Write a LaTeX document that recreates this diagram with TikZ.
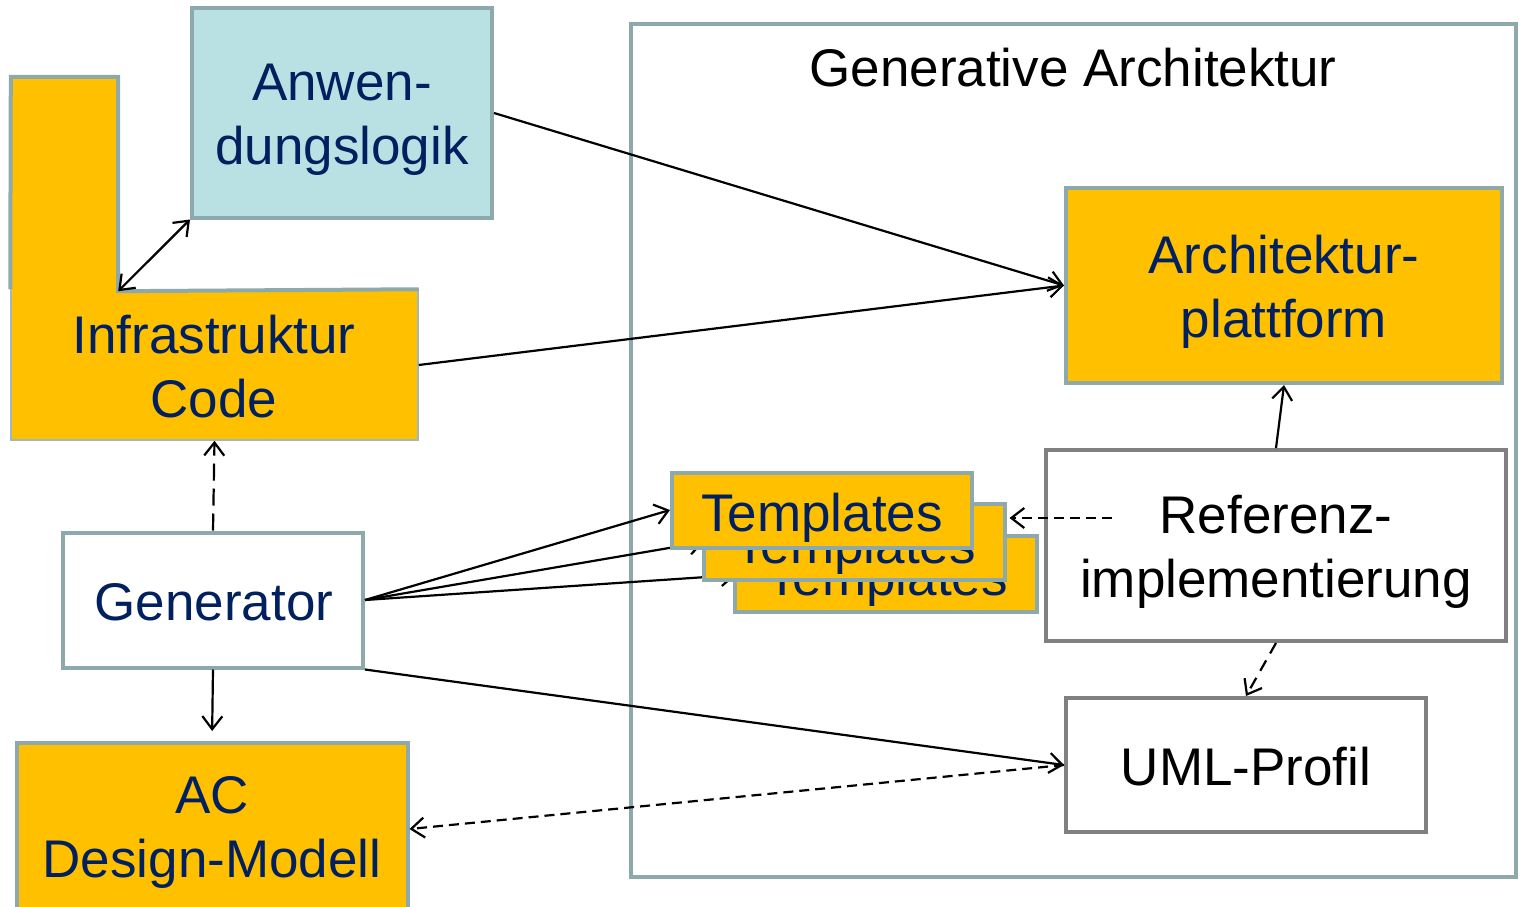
\documentclass[tikz,border=0pt]{standalone}
\usepackage{fontspec}
\setmainfont{Liberation Sans}
\usetikzlibrary{arrows.meta}
\definecolor{frame}{RGB}{142,169,171}
\definecolor{frameThin}{RGB}{160,184,187}
\definecolor{boxgray}{RGB}{128,128,128}
\definecolor{amber}{RGB}{255,192,0}
\definecolor{paleblue}{RGB}{185,224,227}
\definecolor{navy}{RGB}{0,32,96}
\tikzset{
  lbl/.style={font=\fontsize{53}{64}\selectfont, align=center, inner sep=0pt},
  box/.style={draw=frame, line width=4pt, inner sep=0pt, minimum width=#1},
  orangebox/.style={box=#1, fill=amber},
  bluebox/.style={box=#1, fill=paleblue},
  whitebox/.style={box=#1, fill=white},
  plainbox/.style={draw=boxgray, line width=4pt, inner sep=0pt, fill=white, minimum width=#1},
  navytext/.style={lbl, text=navy},
  blacktext/.style={lbl, text=black},
  conn/.style={line width=2.2pt, -{Straight Barb[length=13pt,width=20pt]}},
  biconn/.style={line width=2.2pt, {Straight Barb[length=13pt,width=20pt]}-{Straight Barb[length=13pt,width=20pt]}},
  dep/.style={conn, dash pattern=on 10pt off 6pt},
}
\begin{document}
\begin{tikzpicture}[x=1pt,y=-1pt]
\clip (0,0) rectangle (1521,907);
\fill[white] (0,0) rectangle (1521,907);

% frame of the generative architecture
\node[draw=frame, line width=4pt, minimum width=885pt, minimum height=853pt, inner sep=0pt]
  (genarch) at (1073.5,450.5) {};
\node[blacktext] (title) at (1073,68) {Generative Architektur};

% application logic
\node[bluebox=300pt, minimum height=209pt] (anw) at (342,113) {};
\node[navytext] (anwtxt) at (342,120) {Anwen-\\dungslogik};

% infrastructure code: L-shaped block
\node[draw=frameThin, line width=1.5pt, fill=amber, minimum width=407pt, minimum height=150pt, inner sep=0pt]
  (infra) at (214.5,365) {};
\node[fill=amber, minimum width=107pt, minimum height=214pt, inner sep=0pt]
  (infratop) at (64.5,184) {};
\draw[frame, line width=4pt, line join=miter]
  (infra.north west) -- (infratop.north west) -- (infratop.north east)
  -- (infratop.south east) -- (infra.north east);
\node[navytext] (infratxt) at (214,367) {Infrastruktur\\Code};

% generator and design model
\node[whitebox=300pt, minimum height=135pt] (gen) at (213,600) {};
\node[navytext] (gentxt) at (214,602) {Generator};
\node[orangebox=391pt, minimum height=172pt] (ac) at (212,829) {};
\node[navytext] (actxt) at (212,832) {AC\\Design-Modell};

% architecture platform, reference implementation, UML profile
\node[orangebox=436pt, minimum height=195pt] (arch) at (1284,285.5) {};
\node[navytext] (archtxt) at (1284,292) {Architektur-\\plattform};
\node[plainbox=460pt, minimum height=191pt] (ref) at (1276,545.5) {};
\node[blacktext] (reftxt) at (1276,552) {Referenz-\\implementierung};
\node[plainbox=360pt, minimum height=134pt] (uml) at (1246,765) {};
\node[blacktext] (umltxt) at (1246,767) {UML-Profil};

% generator feeds the template stack (lines pass behind the cards)
\coordinate (t3w) at (736,575);
\coordinate (t2w) at (704,542);
\draw[conn] (gen.east) -- (t3w);
\draw[conn] (gen.east) -- (t2w);

% template stack
\node[orangebox=302pt, minimum height=76pt] (t3) at (886,574) {};
\node[navytext] (t3txt) at (887,582) {Templates};
\node[orangebox=301pt, minimum height=76pt] (t2) at (854,542) {};
\node[navytext] (t2txt) at (855,550) {Templates};
\node[orangebox=300pt, minimum height=75pt] (t1) at (822,510) {};
\node[navytext] (t1txt) at (822,518) {Templates};

% connectors
\draw[biconn] (infratop.south east) -- (anw.south west);
\draw[conn] (anw.east) -- (arch.west);
\draw[conn] (infra.east) -- (arch.west);
\draw[conn, dash pattern=on 17pt off 8pt] (gen.north) -- (infra.south);
\draw[conn, shorten >=10pt] (gen.south) -- (ac.north);
\draw[conn] (gen.east) -- (t1.west);
\draw[conn] (gen.south east) -- (uml.west);
\coordinate (refsrc) at (1112,518);
\draw[dep] (refsrc) -- ([xshift=3pt]refsrc -| t2.east);
\draw[conn] (ref.north) -- (arch.south);
\draw[dep, dash pattern=on 12pt off 8pt] (ref.south) -- (uml.north);
\draw[dep] (uml.west) -- (ac.east);
\end{tikzpicture}
\end{document}
